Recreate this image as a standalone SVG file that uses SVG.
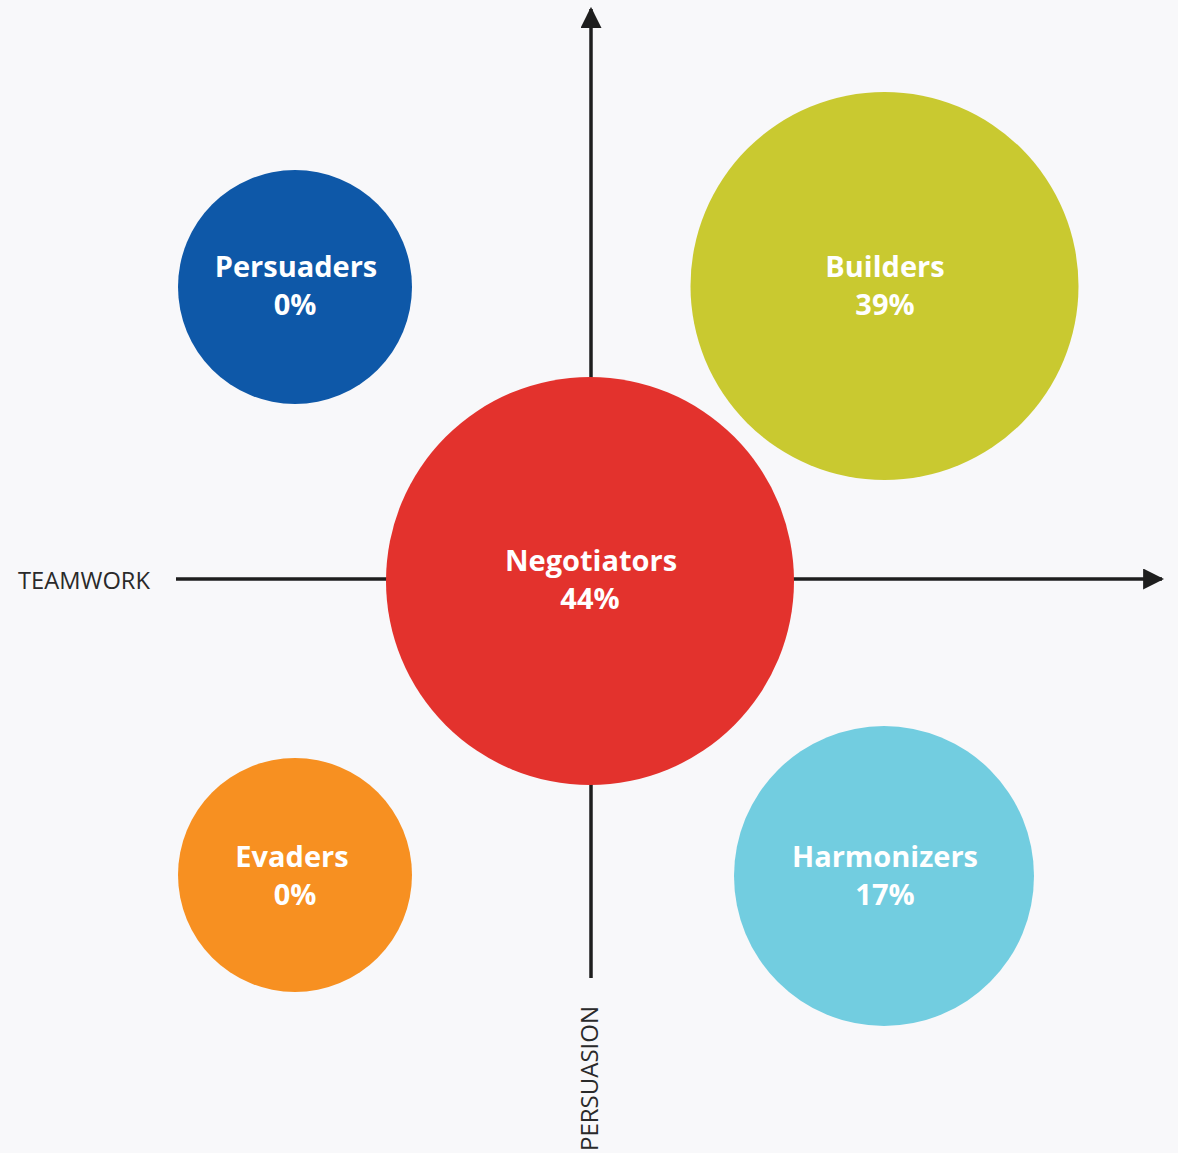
<svg xmlns="http://www.w3.org/2000/svg" width="1178" height="1153" viewBox="0 0 1178 1153">
<style>
.lbl{font-family:"Open Sans","Noto Sans",sans-serif;font-weight:700;font-size:29px;fill:#ffffff;text-anchor:middle}
.ax{font-family:"Open Sans","Noto Sans",sans-serif;font-size:23px;fill:#2a2a2a}
.axis{stroke:#1e1e1e;stroke-width:3.5;fill:none}
</style>
<defs>
<marker id="arr" viewBox="0 0 10 10" refX="9" refY="5" markerWidth="6" markerHeight="6" markerUnits="strokeWidth" orient="auto">
<path d="M0,0 L10,5 L0,10 Z" fill="#1e1e1e"/>
</marker>
</defs>
<rect width="1178" height="1153" fill="#f8f8fa"/>
<g id="connectors">
<line class="axis" x1="176" y1="579" x2="1162" y2="579" marker-end="url(#arr)"/>
<line class="axis" x1="591" y1="978" x2="591" y2="9" marker-end="url(#arr)"/>
</g>
<g id="teamwork"><text class="ax" x="18" y="589" textLength="132" lengthAdjust="spacingAndGlyphs">TEAMWORK</text></g>
<g id="persuasion"><text class="ax" transform="translate(598,1151) rotate(-90)" x="0" y="0" textLength="145" lengthAdjust="spacingAndGlyphs">PERSUASION</text></g>
<g id="persuaders">
<circle cx="295" cy="287" r="117" fill="#0e58a8"/>
<text class="lbl" x="296" y="277">Persuaders</text>
<text class="lbl" x="295" y="315">0%</text>
</g>
<g id="builders">
<circle cx="884.5" cy="286" r="194" fill="#c9c930"/>
<text class="lbl" x="885" y="277">Builders</text>
<text class="lbl" x="885" y="315">39%</text>
</g>
<g id="negotiators">
<circle cx="590" cy="581" r="204" fill="#e3322d"/>
<text class="lbl" x="591" y="571">Negotiators</text>
<text class="lbl" x="590" y="609">44%</text>
</g>
<g id="evaders">
<circle cx="295" cy="875" r="117" fill="#f79021"/>
<text class="lbl" x="292" y="867">Evaders</text>
<text class="lbl" x="295" y="905">0%</text>
</g>
<g id="harmonizers">
<circle cx="884" cy="876" r="150" fill="#72cde0"/>
<text class="lbl" x="885" y="867">Harmonizers</text>
<text class="lbl" x="885" y="905">17%</text>
</g>
</svg>
